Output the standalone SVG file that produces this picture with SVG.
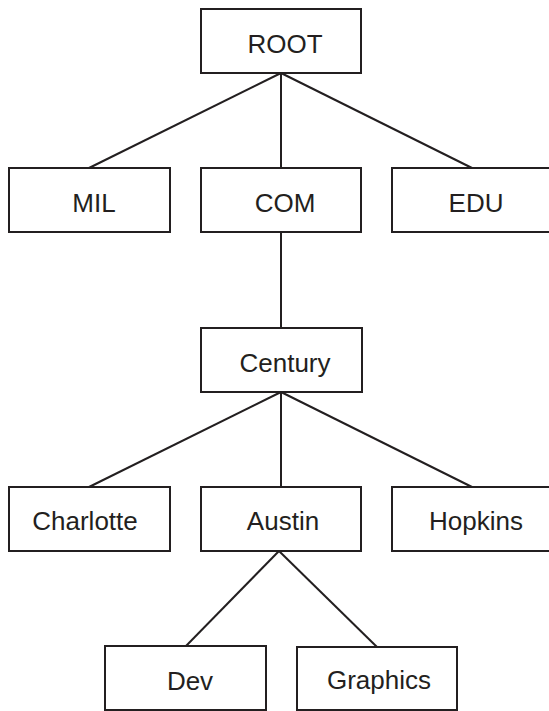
<svg xmlns="http://www.w3.org/2000/svg" width="549" height="711" viewBox="0 0 549 711">
<style>
.box{fill:#fff;stroke:#231f20;stroke-width:2}
.lbl{font-family:"Liberation Sans",Arial,sans-serif;font-size:26px;fill:#231f20;text-anchor:middle}
.edge{stroke:#231f20;stroke-width:2;fill:none}
</style>
<rect width="549" height="711" fill="#fff"/>
<g id="connectors">
<line class="edge" x1="281" y1="73" x2="89" y2="168"/>
<line class="edge" x1="281" y1="73" x2="281" y2="168"/>
<line class="edge" x1="281" y1="73" x2="472" y2="168"/>
<line class="edge" x1="281" y1="232" x2="281" y2="328"/>
<line class="edge" x1="281" y1="392" x2="89" y2="487"/>
<line class="edge" x1="281" y1="392" x2="281" y2="487"/>
<line class="edge" x1="281" y1="392" x2="472" y2="487"/>
<line class="edge" x1="279" y1="551" x2="186" y2="646"/>
<line class="edge" x1="279" y1="551" x2="377" y2="647"/>
</g>
<g id="root"><rect class="box" x="201" y="9" width="160" height="64"/><text class="lbl" x="285" y="53">ROOT</text></g>
<g id="mil"><rect class="box" x="9" y="168" width="161" height="64"/><text class="lbl" x="94" y="212">MIL</text></g>
<g id="com"><rect class="box" x="201" y="168" width="160" height="64"/><text class="lbl" x="285" y="212">COM</text></g>
<g id="edu"><rect class="box" x="392" y="168" width="161" height="64"/><text class="lbl" x="476" y="212">EDU</text></g>
<g id="century"><rect class="box" x="201" y="328" width="161" height="64"/><text class="lbl" x="285" y="372">Century</text></g>
<g id="charlotte"><rect class="box" x="9" y="487" width="161" height="64"/><text class="lbl" x="85" y="530">Charlotte</text></g>
<g id="austin"><rect class="box" x="201" y="487" width="160" height="64"/><text class="lbl" x="283" y="530">Austin</text></g>
<g id="hopkins"><rect class="box" x="392" y="487" width="161" height="64"/><text class="lbl" x="476" y="530">Hopkins</text></g>
<g id="dev"><rect class="box" x="105" y="646" width="161" height="64"/><text class="lbl" x="190" y="690">Dev</text></g>
<g id="graphics"><rect class="box" x="297" y="647" width="160" height="63"/><text class="lbl" x="379" y="689">Graphics</text></g>
</svg>
